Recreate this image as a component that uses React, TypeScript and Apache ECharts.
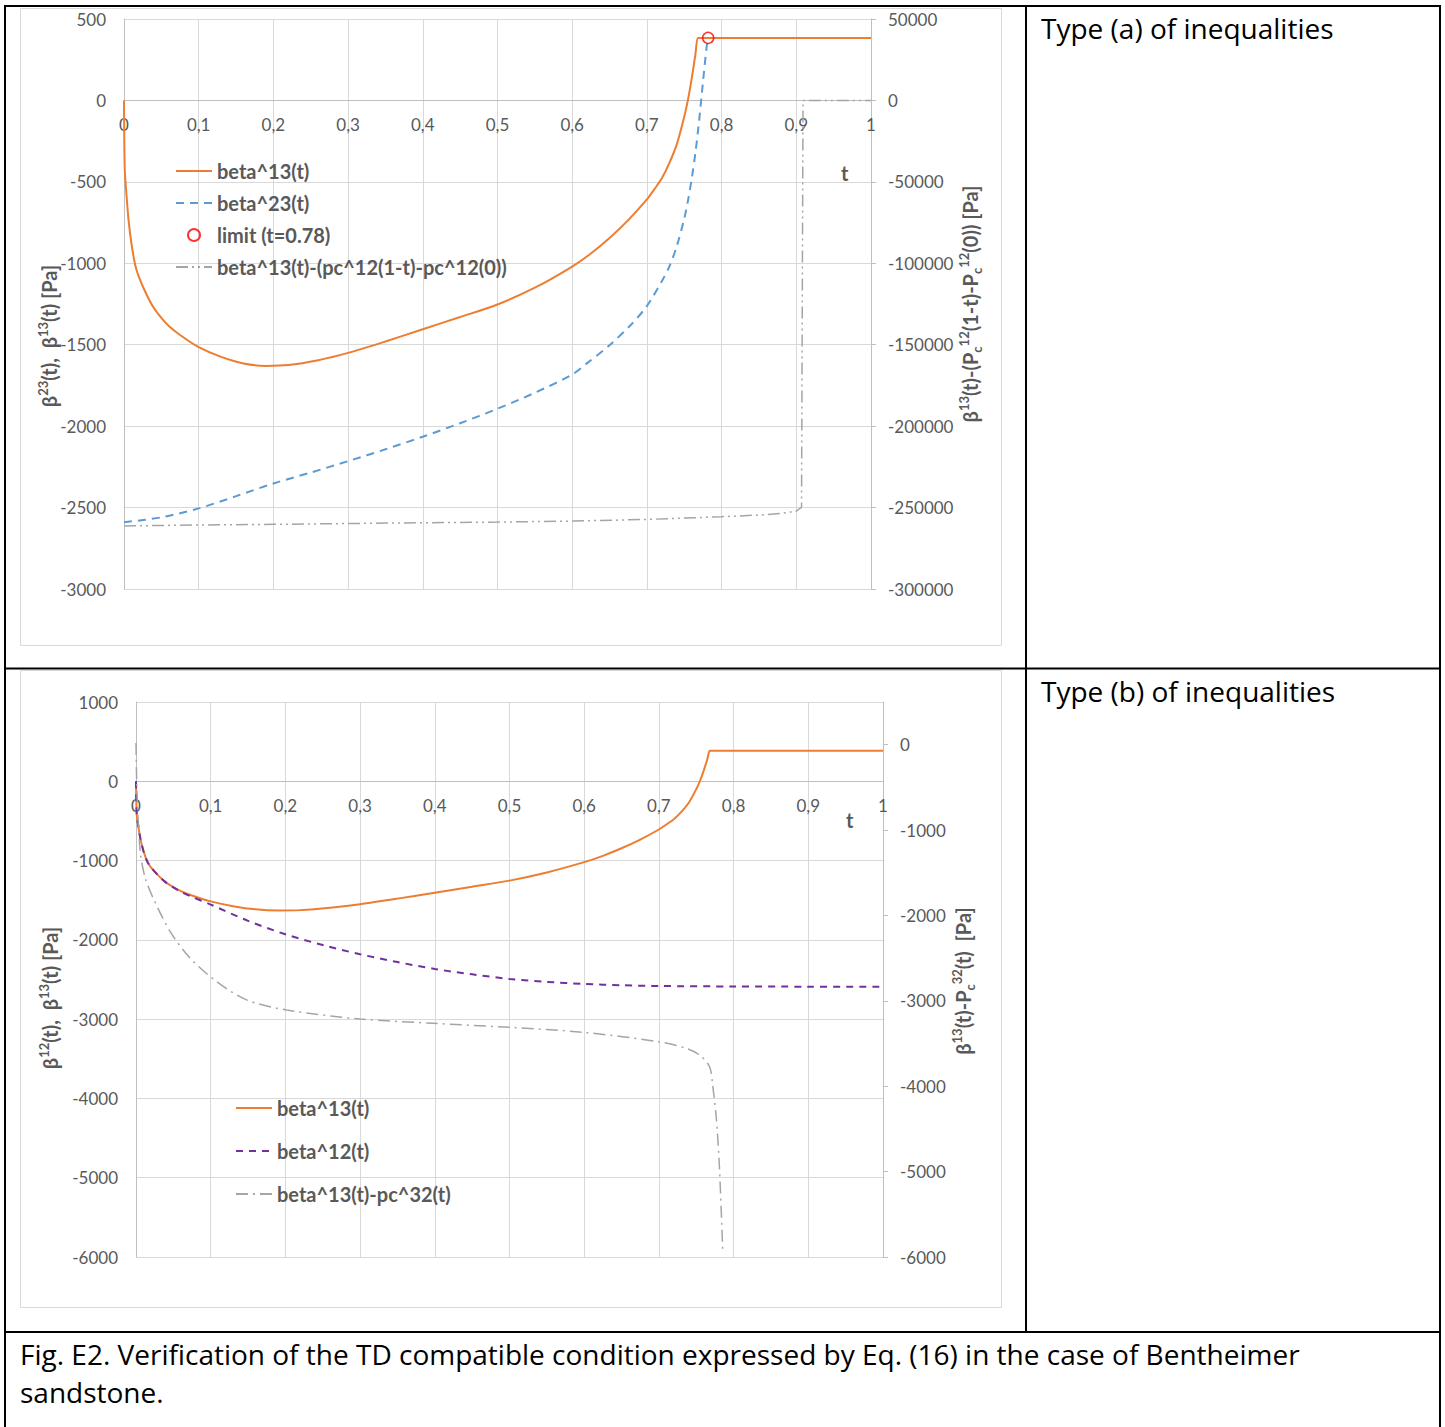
import React, { useEffect, useRef } from "react";
import * as echarts from "echarts";

// ---------- data ----------
const tTicks = [0, 0.1, 0.2, 0.3, 0.4, 0.5, 0.6, 0.7, 0.8, 0.9, 1];

// beta^13(t) [Pa] (both panels)
const beta13: [number, number][] = [
  [0, 0], [0.001, -420], [0.003, -560], [0.006, -730], [0.01, -880], [0.015, -1010],
  [0.02, -1085], [0.03, -1190], [0.04, -1275], [0.05, -1335], [0.06, -1385],
  [0.075, -1440], [0.1, -1515], [0.13, -1575], [0.16, -1615],
  [0.19, -1630], [0.22, -1625], [0.26, -1595], [0.3, -1550], [0.35, -1480],
  [0.4, -1405], [0.45, -1330], [0.5, -1253], [0.55, -1150], [0.6, -1020],
  [0.625, -940], [0.65, -845], [0.675, -735], [0.7, -608], [0.71, -545],
  [0.72, -478], [0.73, -385], [0.74, -270], [0.75, -100], [0.755, 5], [0.76, 135],
  [0.765, 285], [0.768, 384], [0.77, 384], [1, 384],
];

// beta^23(t) [Pa] (panel a)
const beta23: [number, number][] = [
  [0, -2590], [0.05, -2560], [0.1, -2505], [0.15, -2430], [0.2, -2352], [0.25, -2285],
  [0.3, -2215], [0.35, -2142], [0.4, -2065], [0.45, -1982], [0.5, -1893], [0.55, -1795],
  [0.6, -1683], [0.62, -1613], [0.65, -1503], [0.68, -1371], [0.7, -1262],
  [0.72, -1110], [0.73, -1020], [0.74, -895], [0.75, -725], [0.755, -615],
  [0.76, -480], [0.765, -320], [0.77, -120], [0.775, 110], [0.78, 330], [0.782, 384],
];

// limit point (panel a)
const limitPoint: [number, number][] = [[0.782, 384]];

// beta^13(t)-(pc^12(1-t)-pc^12(0)) [Pa] (panel a, right axis)
const beta13MinusPc12: [number, number][] = [
  [0, -261300], [0.1, -260700], [0.2, -260300], [0.3, -259800], [0.4, -259300],
  [0.5, -258900], [0.6, -258300], [0.7, -257300], [0.8, -255600], [0.85, -254600],
  [0.88, -253600], [0.9, -252200], [0.905, -250400], [0.907, -250000], [0.909, 0], [1, 0],
];

// beta^12(t) [Pa] (panel b)
const beta12: [number, number][] = [
  [0, 0], [0.001, -420], [0.003, -560], [0.006, -730], [0.01, -880], [0.015, -1010],
  [0.02, -1085], [0.03, -1190], [0.04, -1275], [0.05, -1338], [0.06, -1393],
  [0.075, -1458], [0.1, -1555], [0.15, -1760], [0.2, -1930],
  [0.25, -2065], [0.3, -2182], [0.35, -2280], [0.4, -2367], [0.45, -2435],
  [0.5, -2493], [0.55, -2530], [0.6, -2556], [0.65, -2572], [0.7, -2582],
  [0.8, -2588], [0.9, -2590], [1, -2590],
];

// beta^13(t)-pc^32(t) [Pa] (panel b, right axis)
const beta13MinusPc32: [number, number][] = [
  [0, 20], [0.0015, -600], [0.0057, -1251], [0.012, -1550], [0.023, -1797],
  [0.0458, -2189], [0.0725, -2500], [0.108, -2774], [0.148, -2989], [0.2016, -3107],
  [0.3, -3212], [0.398, -3263], [0.5, -3310], [0.598, -3368], [0.699, -3478],
  [0.7366, -3556], [0.7544, -3634], [0.7678, -3771], [0.7722, -4006],
  [0.7767, -4358], [0.781, -4944], [0.7856, -5960],
];

// axis ranges / ticks
const yLeftA = { min: -3000, max: 500, interval: 500 };
const yRightA = { min: -300000, max: 50000, interval: 50000 };
const yLeftB = { min: -6000, max: 1000, interval: 1000 };
const yRightB = { min: -6000, max: 500, interval: 1000 };
const yRightBTicks = [-6000, -5000, -4000, -3000, -2000, -1000, 0];

// ---------- styles ----------
const FONT = "Lato, 'Open Sans', sans-serif";
const DOC_FONT = "'Open Sans', Lato, sans-serif";
const LABEL = "#595959";
const GRID_C = "#d9d9d9";
const AXIS_C = "#bfbfbf";
const ORANGE = "#ED7D31";
const BLUE = "#5B9BD5";
const PURPLE = "#7030A0";
const GRAY = "#A5A5A5";
const RED = "#FF0000";

// grid geometry (pixels)
const GA = { left: 124, top: 19, width: 747, height: 570 };
const GB = { left: 136, top: 702, width: 747, height: 555 };

function richFor(size: number) {
  const base = { fontFamily: FONT, fontWeight: "bold", fill: LABEL };
  return {
    sup: { ...base, fontSize: Math.round(size * 0.66), lineHeight: 14, verticalAlign: "top" },
    sub: { ...base, fontSize: Math.round(size * 0.66), lineHeight: 14, verticalAlign: "bottom" },
  };
}

function axisTitle(x: number, y: number, text: string) {
  return {
    type: "text",
    x,
    y,
    rotation: Math.PI / 2,
    style: {
      text,
      rich: richFor(20),
      fontSize: 20,
      fontWeight: "bold",
      fontFamily: FONT,
      fill: LABEL,
      lineHeight: 26,
      align: "center",
      verticalAlign: "middle",
    },
  };
}

function plainText(x: number, y: number, text: string, size: number, color: string, weight = "normal", family = FONT) {
  return {
    type: "text",
    x,
    y,
    style: {
      text,
      fontSize: size,
      fontWeight: weight,
      fontFamily: family,
      fill: color,
      align: "left",
      verticalAlign: "middle",
    },
  };
}

function hLine(x1: number, x2: number, y: number) {
  return { type: "line", shape: { x1, y1: y, x2, y2: y }, style: { stroke: "#000", lineWidth: 2 } };
}
function vLine(x: number, y1: number, y2: number) {
  return { type: "line", shape: { x1: x, y1, x2: x, y2 }, style: { stroke: "#000", lineWidth: 2 } };
}

// x axis drawn at the value 0 of the left axis (labels follow it) via negative offset
function xAxisFor(gridIndex: number, offset: number, margin: number) {
  return {
    type: "value",
    gridIndex,
    position: "bottom",
    offset,
    min: 0,
    max: 1,
    interval: 0.1,
    axisLine: { show: true, onZero: false, lineStyle: { color: AXIS_C, width: 1 } },
    axisTick: { show: false },
    axisLabel: {
      color: LABEL,
      fontSize: 17,
      fontFamily: FONT,
      margin,
      formatter: (v: number) => {
        const r = Math.round(v * 10) / 10;
        return tTicks.includes(r) ? String(r).replace(".", ",") : "";
      },
    },
    splitLine: { show: true, lineStyle: { color: GRID_C, width: 1 } },
  };
}

function yAxisFor(
  gridIndex: number,
  position: string,
  range: { min: number; max: number; interval: number },
  opts: { split: boolean; ticks: boolean; margin: number; custom?: number[] }
) {
  return {
    type: "value",
    gridIndex,
    position,
    ...range,
    axisLine: { show: true, onZero: false, lineStyle: { color: AXIS_C, width: 1 } },
    axisTick: {
      show: opts.ticks,
      inside: false,
      length: 5,
      lineStyle: { color: AXIS_C },
      ...(opts.custom ? { customValues: opts.custom } : {}),
    },
    axisLabel: {
      color: LABEL,
      fontSize: 17,
      fontFamily: FONT,
      margin: opts.margin,
      ...(opts.custom ? { customValues: opts.custom } : {}),
      formatter: (v: number) => (v % range.interval === 0 ? String(v) : ""),
    },
    splitLine: { show: opts.split, lineStyle: { color: GRID_C, width: 1 } },
  };
}

function lineSeries(
  name: string,
  data: [number, number][],
  xAxisIndex: number,
  yAxisIndex: number,
  color: string,
  type: any,
  width: number,
  smooth: boolean | number
) {
  return {
    type: "line",
    name,
    data,
    xAxisIndex,
    yAxisIndex,
    showSymbol: false,
    symbol: "none",
    smooth,
    lineStyle: { color, width, type },
    itemStyle: { color },
    emphasis: { disabled: true },
  };
}

function buildOption() {
  const legendText = { fontSize: 20, fontWeight: "bold", color: LABEL, fontFamily: FONT };
  const lineItem = (name: string) => ({ name, itemStyle: { opacity: 0 } });
  // distance from bottom of grid up to the value 0 on the left axis
  const zeroA = (GA.height * (0 - yLeftA.min)) / (yLeftA.max - yLeftA.min);
  const zeroB = (GB.height * (0 - yLeftB.min)) / (yLeftB.max - yLeftB.min);
  return {
    animation: false,
    grid: [
      { ...GA, outerBoundsMode: "none", containLabel: false },
      { ...GB, outerBoundsMode: "none", containLabel: false },
    ],
    xAxis: [xAxisFor(0, -zeroA, 15.5), xAxisFor(1, -zeroB, 16)],
    yAxis: [
      yAxisFor(0, "left", yLeftA, { split: true, ticks: false, margin: 18 }),
      yAxisFor(0, "right", yRightA, { split: false, ticks: true, margin: 17 }),
      yAxisFor(1, "left", yLeftB, { split: true, ticks: false, margin: 18 }),
      yAxisFor(1, "right", yRightB, { split: false, ticks: true, margin: 17, custom: yRightBTicks }),
    ],
    legend: [
      {
        orient: "vertical",
        left: 175,
        top: 161,
        padding: 0,
        itemWidth: 36,
        itemHeight: 12,
        itemGap: 12,
        selectedMode: false,
        textStyle: legendText,
        data: [
          lineItem("beta^13(t)"),
          lineItem("beta^23(t)"),
          { name: "limit (t=0.78)" },
          lineItem("beta^13(t)-(pc^12(1-t)-pc^12(0))"),
        ],
      },
      {
        orient: "vertical",
        left: 235,
        top: 1098,
        padding: 0,
        itemWidth: 36,
        itemHeight: 12,
        itemGap: 23,
        selectedMode: false,
        textStyle: legendText,
        data: [lineItem("beta^13(t)"), lineItem("beta^12(t)"), lineItem("beta^13(t)-pc^32(t)")],
      },
    ],
    series: [
      lineSeries("beta^13(t)", beta13, 0, 0, ORANGE, "solid", 2, 0.3),
      lineSeries("beta^23(t)", beta23, 0, 0, BLUE, [8, 6], 2, 0.3),
      {
        type: "scatter",
        name: "limit (t=0.78)",
        data: limitPoint,
        xAxisIndex: 0,
        yAxisIndex: 0,
        symbol: "circle",
        symbolSize: 11,
        itemStyle: { color: "rgba(255,255,255,0)", borderColor: RED, borderWidth: 1.5 },
        emphasis: { disabled: true },
        z: 5,
      },
      lineSeries("beta^13(t)-(pc^12(1-t)-pc^12(0))", beta13MinusPc12, 0, 1, GRAY, [12, 4, 2, 4, 2, 4], 1.5, false),
      lineSeries("beta^13(t)", beta13, 1, 2, ORANGE, "solid", 2, 0.3),
      lineSeries("beta^12(t)", beta12, 1, 2, PURPLE, [7, 6], 2, 0.3),
      lineSeries("beta^13(t)-pc^32(t)", beta13MinusPc32, 1, 3, GRAY, [12, 5, 2, 5], 1.5, 0.3),
    ],
    graphic: [
      // chart outer borders
      { type: "rect", shape: { x: 20.5, y: 8.5, width: 981, height: 637 }, style: { fill: "none", stroke: GRID_C, lineWidth: 1 }, z: -1 },
      { type: "rect", shape: { x: 20.5, y: 670.5, width: 981, height: 637 }, style: { fill: "none", stroke: GRID_C, lineWidth: 1 }, z: -1 },
      // table borders
      hLine(4, 1441, 6),
      hLine(4, 1441, 668.5),
      hLine(4, 1441, 1332),
      vLine(5, 5, 1427),
      vLine(1440, 5, 1427),
      vLine(1026, 5, 1332),
      // axis names "t"
      plainText(841, 173, "t", 20, LABEL, "bold"),
      plainText(846, 820, "t", 20, LABEL, "bold"),
      // axis titles
      axisTitle(49, 336, "β{sup|23}(t),  β{sup|13}(t) [Pa]"),
      axisTitle(970, 304, "β{sup|13}(t)-(P{sub|c}{sup|12}(1-t)-P{sub|c}{sup|12}(0)) [Pa]"),
      axisTitle(50, 998, "β{sup|12}(t),  β{sup|13}(t) [Pa]"),
      axisTitle(963, 981, "β{sup|13}(t)-P{sub|c}{sup|32}(t)  [Pa]"),
      // table texts
      plainText(1041, 28, "Type (a) of inequalities", 28, "#000", "normal", DOC_FONT),
      plainText(1041, 691, "Type (b) of inequalities", 28, "#000", "normal", DOC_FONT),
      plainText(20, 1354, "Fig. E2. Verification of the TD compatible condition expressed by Eq. (16) in the case of Bentheimer", 28, "#000", "normal", DOC_FONT),
      plainText(20, 1392, "sandstone.", 28, "#000", "normal", DOC_FONT),
    ],
  };
}

export default function App() {
  const ref = useRef<HTMLDivElement>(null);
  useEffect(() => {
    document.body.style.margin = "0";
    const chart = echarts.init(ref.current as HTMLDivElement, null, { renderer: "svg" });
    chart.setOption(buildOption() as any);
    return () => {
      chart.dispose();
    };
  }, []);
  return <div ref={ref} style={{ width: 1445, height: 1427, background: "#fff" }} />;
}
